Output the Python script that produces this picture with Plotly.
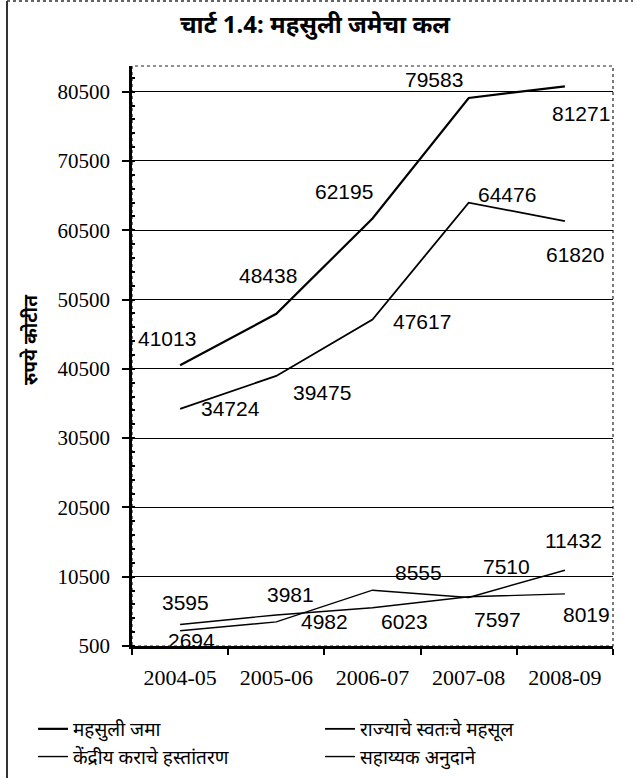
import plotly.graph_objects as go

# Revenue receipts of the state, Rs. crore
years = ["2004-05", "2005-06", "2006-07", "2007-08", "2008-09"]
revenue_receipts = [41013, 48438, 62195, 79583, 81271]
own_revenue = [34724, 39475, 47617, 64476, 61820]
central_tax_share = [3595, 4982, 6023, 7597, 8019]
grants_in_aid = [2694, 3981, 8555, 7510, 11432]

series_names = [
    "महसुली जमा",
    "राज्याचे स्वतःचे महसूल",
    "केंद्रीय कराचे हस्तांतरण",
    "सहाय्यक अनुदाने",
]
y_tick_values = list(range(500, 80501, 10000))

title_text = "चार्ट 1.4: महसुली जमेचा कल"
y_title = "रुपये कोटीत"

# label offsets in pixels (dx right, dy down) for each point of each series
label_offsets = [
    [(-13, -27), (-8, -38), (-29, -27), (-35, -18), (16, 27)],
    [(50, 0), (46, 17), (49, 2), (38, -8), (10, 33)],
    [(5, -22), (48, 7), (32, 14), (29, 23), (22, 21)],
    [(11, 10), (14, -27), (46, -18), (38, -31), (9, -30)],
]
line_widths = [2.2, 1.8, 1.4, 1.4]

all_series = [revenue_receipts, own_revenue, central_tax_share, grants_in_aid]

W, H = 637, 779
ML, MR, MT, MB = 132, 24, 66, 133
PW, PH = W - ML - MR, H - MT - MB

SERIF = "Liberation Serif, Times New Roman, serif"
SANS = "Liberation Sans, Arial, sans-serif"
DEVA = "Noto Sans, sans-serif"

fig = go.Figure()
for name, values, lw in zip(series_names, all_series, line_widths):
    fig.add_trace(go.Scatter(
        x=years, y=values, name=name, mode="lines",
        line=dict(color="black", width=lw),
    ))

annotations = []
for values, offsets in zip(all_series, label_offsets):
    for yr, v, (dx, dy) in zip(years, values, offsets):
        annotations.append(dict(
            x=yr, y=v, xref="x", yref="y", text=str(v), showarrow=False,
            xshift=dx, yshift=-dy,
            font=dict(family=SANS, size=21, color="black"),
        ))

# vertical axis title
annotations.append(dict(
    x=(30 - ML) / PW, y=(H - MB - 340) / PH, xref="paper", yref="paper",
    xanchor="center", yanchor="middle",
    text=f"<b>{y_title}</b>", showarrow=False, textangle=-90,
    font=dict(family=DEVA, size=19, color="black"),
))

shapes = [
    # plot frame (top / right)
    dict(type="rect", xref="paper", yref="paper", x0=0, x1=1, y0=0, y1=1,
         line=dict(color="#222", width=1.2, dash="dot"), layer="below"),
    # page border, left and top
    dict(type="line", xref="paper", yref="paper",
         x0=(7 - ML) / PW, x1=(7 - ML) / PW, y0=(H - MB - 778) / PH, y1=(H - MB - 1) / PH,
         line=dict(color="#333", width=2)),
    dict(type="line", xref="paper", yref="paper",
         x0=(7 - ML) / PW, x1=(W - 4 - ML) / PW, y0=(H - MB - 1) / PH, y1=(H - MB - 1) / PH,
         line=dict(color="#333", width=1.5, dash="dot")),
]

fig.update_layout(
    width=W, height=H,
    margin=dict(l=ML, r=MR, t=MT, b=MB, autoexpand=False),
    paper_bgcolor="white", plot_bgcolor="white",
    title=dict(text=f"<b>{title_text}</b>", x=315 / W, xanchor="center",
               y=1 - 25 / H, yanchor="middle",
               font=dict(family=DEVA, size=24, color="black")),
    xaxis=dict(
        type="category", showgrid=False, showline=True, linecolor="black", linewidth=2.5,
        ticks="outside", tickson="boundaries", ticklen=6, tickcolor="black", tickwidth=1.5,
        tickfont=dict(family=SERIF, size=22, color="black"),
        ticklabelstandoff=10,
        range=[-0.5, 4.5],
    ),
    yaxis=dict(
        range=[500, 84200], tickvals=y_tick_values, tickformat="d",
        showgrid=True, gridcolor="black", gridwidth=1.4,
        showline=True, linecolor="black", linewidth=2.5,
        ticks="outside", ticklen=7, tickcolor="black", tickwidth=1.5,
        tickfont=dict(family=SERIF, size=21, color="black"),
        ticklabelstandoff=8,
        zeroline=False,
        minor=dict(dtick=2000, tick0=500, ticks="inside", ticklen=3,
                   tickcolor="black", showgrid=False),
    ),
    legend=dict(
        orientation="h", x=(33 - ML) / PW, xanchor="left",
        y=(H - MB - 710) / PH, yanchor="top",
        entrywidth=242, entrywidthmode="pixels",
        font=dict(family=DEVA, size=19, color="black"),
        traceorder="normal", bgcolor="rgba(0,0,0,0)",
    ),
    annotations=annotations,
    shapes=shapes,
)

fig.write_html("out.html")
